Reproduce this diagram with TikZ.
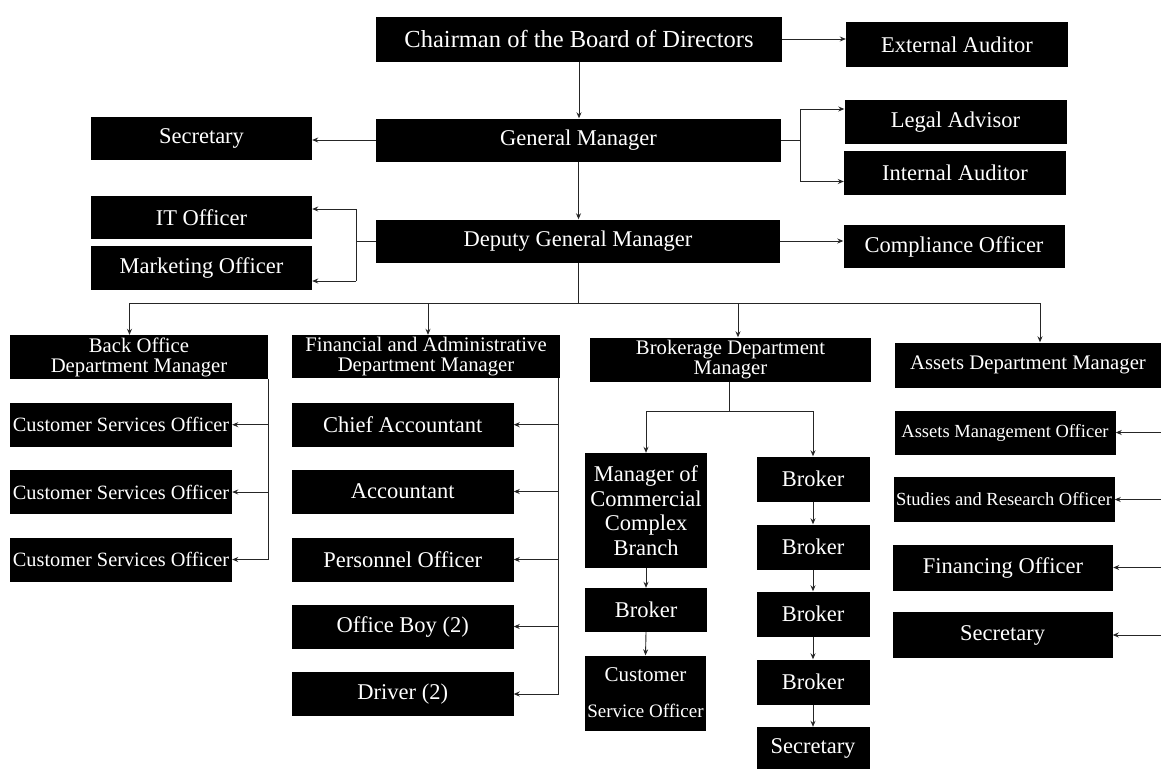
\documentclass[tikz,border=0pt]{standalone}
\usepackage{fontspec}
\setmainfont{Liberation Serif}
\usetikzlibrary{arrows.meta,calc}
\begin{document}
\begin{tikzpicture}[x=1pt,y=-1pt,
  box/.style={fill=black,text=white,inner sep=0pt,align=center,font=\fontsize{22.5}{25}\selectfont},
  dept/.style={box,font=\fontsize{20.7}{20}\selectfont},
  cso/.style={box,font=\fontsize{20.3}{22}\selectfont},
  small/.style={box,font=\fontsize{18.5}{20}\selectfont},
  sz/.style 2 args={minimum width=#1pt,minimum height=#2pt},
  link/.style={line width=0.9pt,draw=black!85},
  arr/.style={link,-{Stealth[length=6pt,width=5pt]}}]
\useasboundingbox (0,0) rectangle (1161,769);
\fill[white] (0,0) rectangle (1161,769);

% top levels
\node[box,sz={406}{45},font=\fontsize{24.5}{26}\selectfont] (chair) at (579,39) {Chairman of the Board of Directors};
\node[box,sz={222}{45}] (ext) at (957,44.5) {External Auditor};
\node[box,sz={405}{43}] (gm) at (578.5,140) {General Manager};
\node[box,sz={221}{43}] (sec) at (201.5,138.5) {Secretary};
\node[box,sz={222}{44}] (legal) at (955.5,122) {Legal Advisor};
\node[box,sz={222}{44}] (intaud) at (955,172.5) {Internal Auditor};
\node[box,sz={221}{43}] (it) at (201.5,217.5) {IT Officer};
\node[box,sz={221}{44}] (mkt) at (201.5,268) {Marketing Officer};
\node[box,sz={404}{43}] (dgm) at (578,241) {Deputy General Manager};
\node[box,sz={221}{43}] (comp) at (954,246.5) {Compliance Officer};

% departments
\node[dept,sz={258}{44}] (bo) at (139,357) {Back Office\\Department Manager};
\node[dept,sz={268}{43}] (fin) at (426,356.5) {Financial and Administrative\\Department Manager};
\node[dept,sz={281}{44}] (brk) at (730.5,359.5) {Brokerage Department\\Manager};
\node[dept,sz={266}{45}] (ast) at (1028,365) {Assets Department Manager};

% back office
\node[cso,sz={222}{44}] (cso1) at (121,424.7) {Customer Services Officer};
\node[cso,sz={222}{44}] (cso2) at (121,492) {Customer Services Officer};
\node[cso,sz={222}{44}] (cso3) at (121,559.5) {Customer Services Officer};

% financial
\node[box,sz={221.5}{44}] (chief) at (402.75,424.7) {Chief Accountant};
\node[box,sz={221.5}{44}] (acct) at (402.75,491.5) {Accountant};
\node[box,sz={221.5}{44}] (pers) at (402.75,559.5) {Personnel Officer};
\node[box,sz={221.5}{44}] (boy) at (402.75,626.5) {Office Boy (2)};
\node[box,sz={221.5}{44}] (drv) at (402.75,694) {Driver (2)};

% brokerage
\node[box,sz={122}{115},font=\fontsize{22.5}{24.5}\selectfont] (mccb) at (646,510.5) {Manager of\\Commercial\\Complex\\Branch};
\node[box,sz={122}{44}] (brkL) at (646,610) {Broker};
\node[box,sz={121}{75},font=\fontsize{19}{36}\selectfont] (csoB) at (645.5,693) {{\fontsize{21}{36}\selectfont Customer}\\Service Officer};
\node[box,sz={113}{45}] (b1) at (813,479) {Broker};
\node[box,sz={113}{45}] (b2) at (813,547) {Broker};
\node[box,sz={113}{45}] (b3) at (813,614) {Broker};
\node[box,sz={113}{45}] (b4) at (813,682) {Broker};
\node[box,sz={113}{42}] (bsec) at (813,748) {Secretary};

% assets
\node[small,sz={221}{44}] (amo) at (1005,432.5) {Assets Management Officer};
\node[small,sz={221}{45}] (sro) at (1004,499.5) {Studies and Research Officer};
\node[box,sz={220}{46}] (fo) at (1003,567.5) {Financing Officer};
\node[box,sz={220}{46}] (asec) at (1002.5,635) {Secretary};

% coordinates
\coordinate (gmj) at (800.5,140);
\coordinate (legA) at ($(legal.west)+(0,-13)$);
\coordinate (intA) at ($(intaud.west)+(0,9)$);
\coordinate (dj) at (356,241);
\coordinate (itA) at ($(it.east)+(0,-8.5)$);
\coordinate (mkA) at ($(mkt.east)+(0,13)$);
\coordinate (bus) at (578,303);
\coordinate (busL) at (129.5,303);
\coordinate (busF) at (428,303);
\coordinate (busB) at (738,303);
\coordinate (busR) at (1040,303);
\coordinate (boX) at (268,0);
\coordinate (finX) at (558.5,0);
\coordinate (bj) at (729,411);
\coordinate (astX) at (1161,0);

% top connectors
\draw[arr] (chair.south) -- (chair.south |- gm.north);
\draw[arr] (gm.south) -- (gm.south |- dgm.north);
\draw[arr] (chair.east) -- (chair.east -| ext.west);
\draw[arr] (gm.west) -- (gm.west -| sec.east);
\draw[link] (gm.east) -- (gmj);
\draw[link] (gmj |- legA) -- (gmj |- intA);
\draw[arr] (gmj |- legA) -- (legA);
\draw[arr] (gmj |- intA) -- (intA);
\draw[link] (dgm.west) -- (dj);
\draw[link] (dj |- itA) -- (dj |- mkA);
\draw[arr] (dj |- itA) -- (itA);
\draw[arr] (dj |- mkA) -- (mkA);
\draw[arr] (dgm.east) -- (dgm.east -| comp.west);

% bus
\draw[link] (dgm.south) -- (bus);
\draw[link] (busL) -- (busR);
\draw[arr] (busL) -- (busL |- bo.north);
\draw[arr] (busF) -- (busF |- fin.north);
\draw[arr] (busB) -- (busB |- brk.north);
\draw[arr] (busR) -- (busR |- ast.north);

% back office
\draw[link] (boX |- bo.south) -- (boX |- cso3.east);
\draw[arr] (boX |- cso1.east) -- (cso1.east);
\draw[arr] (boX |- cso2.east) -- (cso2.east);
\draw[arr] (boX |- cso3.east) -- (cso3.east);

% financial
\draw[link] (finX |- fin.south) -- (finX |- drv.east);
\draw[arr] (finX |- chief.east) -- (chief.east);
\draw[arr] (finX |- acct.east) -- (acct.east);
\draw[arr] (finX |- pers.east) -- (pers.east);
\draw[arr] (finX |- boy.east) -- (boy.east);
\draw[arr] (finX |- drv.east) -- (drv.east);

% brokerage
\draw[link] (bj |- brk.south) -- (bj);
\draw[link] (mccb.north |- bj) -- (b1.north |- bj);
\draw[arr] (mccb.north |- bj) -- (mccb.north);
\draw[arr] (b1.north |- bj) -- (b1.north);
\draw[arr] (mccb.south) -- (brkL.north);
\draw[arr] (brkL.south) -- (csoB.north);
\draw[arr] (b1.south) -- (b2.north);
\draw[arr] (b2.south) -- (b3.north);
\draw[arr] (b3.south) -- (b4.north);
\draw[arr] (b4.south) -- (bsec.north);

% assets
\draw[arr] (astX |- amo.east) -- (amo.east);
\draw[arr] (astX |- sro.east) -- (sro.east);
\draw[arr] (astX |- fo.east) -- (fo.east);
\draw[arr] (astX |- asec.east) -- (asec.east);
\end{tikzpicture}
\end{document}
